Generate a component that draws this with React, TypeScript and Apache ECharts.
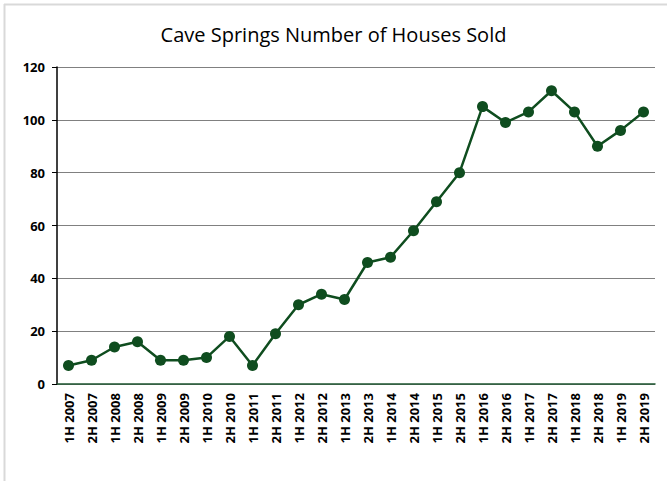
import React, { useEffect, useRef } from "react";
import * as echarts from "echarts";

const categories = [
  "1H 2007", "2H 2007", "1H 2008", "2H 2008", "1H 2009", "2H 2009", "1H 2010", "2H 2010",
  "1H 2011", "2H 2011", "1H 2012", "2H 2012", "1H 2013", "2H 2013", "1H 2014", "2H 2014",
  "1H 2015", "2H 2015", "1H 2016", "2H 2016", "1H 2017", "2H 2017", "1H 2018", "2H 2018",
  "1H 2019", "2H 2019",
];
const housesSold = [
  7, 9, 14, 16, 9, 9, 10, 18, 7, 19, 30, 34, 32, 46, 48, 58, 69, 80, 105, 99, 103, 111, 103, 90, 96, 103,
];
const titleText = "Cave Springs Number of Houses Sold";

export default function App() {
  const ref = useRef<HTMLDivElement>(null);
  useEffect(() => {
    if (!ref.current) return;
    const chart = echarts.init(ref.current, null, { renderer: "svg" });
    chart.setOption({
      animation: false,
      backgroundColor: "#ffffff",
      title: {
        text: titleText,
        left: "center",
        top: 19,
        textStyle: { fontFamily: "Open Sans", fontSize: 20, fontWeight: "normal", color: "#000" },
      },
      graphic: [
        { type: "line", shape: { x1: 4.5, y1: 4, x2: 4.5, y2: 481 }, style: { stroke: "#d9d9d9", lineWidth: 2 } },
        { type: "line", shape: { x1: 4, y1: 4.5, x2: 667, y2: 4.5 }, style: { stroke: "#d9d9d9", lineWidth: 2 } },
      ],
      grid: { left: 57, right: 12, top: 67, bottom: 97, containLabel: false },
      xAxis: {
        type: "category",
        data: categories,
        boundaryGap: true,
        axisLine: { lineStyle: { color: "#1e5631", width: 1.5 } },
        axisTick: { show: false },
        axisLabel: {
          rotate: 90,
          interval: 0,
          margin: 9,
          fontFamily: "Open Sans",
          fontWeight: "bold",
          fontSize: 13,
          color: "#000",
        },
      },
      yAxis: {
        type: "value",
        min: 0,
        max: 120,
        interval: 20,
        axisLine: { show: true, lineStyle: { color: "#000", width: 1.5 } },
        axisTick: { show: true, length: 5, lineStyle: { color: "#000" } },
        splitLine: { lineStyle: { color: "#808080", width: 1 } },
        axisLabel: {
          margin: 12,
          fontFamily: "Open Sans",
          fontWeight: "bold",
          fontSize: 13,
          color: "#000",
        },
      },
      series: [
        {
          type: "line",
          data: housesSold,
          symbol: "circle",
          symbolSize: 11,
          lineStyle: { color: "#0f4d1f", width: 2.5 },
          itemStyle: { color: "#0f4d1f" },
        },
      ],
    });
    return () => chart.dispose();
  }, []);
  return <div ref={ref} style={{ width: 667, height: 481, position: "absolute", left: 0, top: 0 }} />;
}
